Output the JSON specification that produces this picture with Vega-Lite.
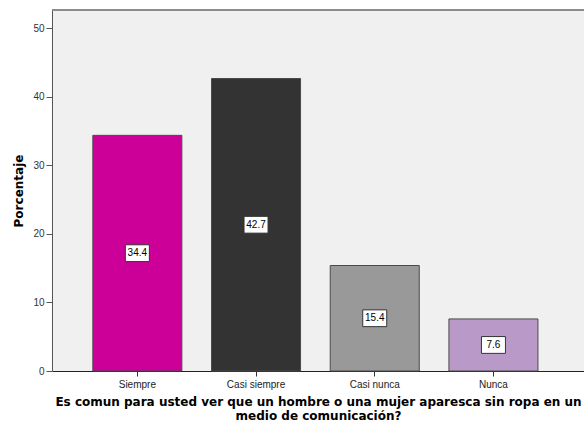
{
  "$schema": "https://vega.github.io/schema/vega-lite/v6.json",
  "width": 532,
  "height": 361,
  "autosize": {"type": "none"},
  "padding": {"left": 52, "top": 10, "right": 0, "bottom": 56},
  "background": "white",
  "config": {
    "view": {"fill": "#f0f0f0", "stroke": null},
    "font": "Liberation Sans"
  },
  "data": {
    "values": [
      {"respuesta": "Siempre", "porcentaje": 34.4},
      {"respuesta": "Casi siempre", "porcentaje": 42.7},
      {"respuesta": "Casi nunca", "porcentaje": 15.4},
      {"respuesta": "Nunca", "porcentaje": 7.6}
    ]
  },
  "encoding": {
    "x": {
      "field": "respuesta",
      "type": "nominal",
      "sort": null,
      "scale": {"paddingInner": 0.25, "paddingOuter": 0.366, "align": 0.47},
      "axis": {
        "title": ["Es comun para usted ver que un hombre o una mujer aparesca sin ropa en un", "medio de comunicación?"],
        "titleFont": "DejaVu Sans",
        "titleFontSize": 12,
        "titleFontWeight": "bold",
        "titleColor": "black",
        "titleLineHeight": 14,
        "titlePadding": 7,
        "labelAngle": 0,
        "labelFont": "Liberation Sans",
        "labelFontSize": 10,
        "labelColor": "#222222",
        "labelPadding": 3,
        "tickSize": 5,
        "tickColor": "#333333",
        "domainColor": "#222222",
        "grid": false
      }
    }
  },
  "layer": [
    {
      "layer": [
        {
          "mark": {"type": "bar", "stroke": "#4a4a4a", "strokeWidth": 1},
          "encoding": {
            "y": {
              "field": "porcentaje",
              "type": "quantitative",
              "scale": {"domain": [0, 52.7], "nice": false},
              "axis": {
                "title": "Porcentaje",
                "titleFont": "DejaVu Sans",
                "titleFontSize": 12,
                "titleFontWeight": "bold",
                "titleColor": "black",
                "titlePadding": 7,
                "values": [0, 10, 20, 30, 40, 50],
                "labelFont": "Liberation Sans",
                "labelFontSize": 10,
                "labelColor": "#333333",
                "labelPadding": 2,
                "tickSize": 6,
                "tickColor": "#555555",
                "domainColor": "#555555",
                "grid": false
              }
            },
            "color": {
              "field": "respuesta",
              "type": "nominal",
              "scale": {
                "domain": ["Siempre", "Casi siempre", "Casi nunca", "Nunca"],
                "range": ["#cc0099", "#333333", "#999999", "#b899c8"]
              },
              "legend": null
            }
          }
        },
        {
          "data": {"values": [{}]},
          "mark": {"type": "rule", "color": "#8c8c8c", "strokeWidth": 2},
          "encoding": {"x": null, "y": {"datum": 52.7}}
        }
      ]
    },
    {
      "layer": [
        {
          "mark": {
            "type": "point",
            "shape": "M-1,-0.7H1V0.7H-1Z",
            "size": 576,
            "filled": true,
            "fill": "white",
            "stroke": "#333333",
            "strokeWidth": 1,
            "opacity": 1
          },
          "encoding": {
            "y": {"field": "porcentaje", "type": "quantitative", "scale": {"domain": [0, 105.4], "nice": false}, "axis": null}
          }
        },
        {
          "mark": {"type": "text", "fontSize": 10, "color": "black", "baseline": "middle", "align": "center", "font": "Liberation Sans"},
          "encoding": {
            "y": {"field": "porcentaje", "type": "quantitative", "scale": {"domain": [0, 105.4], "nice": false}, "axis": null},
            "text": {"field": "porcentaje", "type": "quantitative", "format": ".1f"}
          }
        }
      ]
    }
  ],
  "resolve": {"scale": {"y": "independent"}}
}
